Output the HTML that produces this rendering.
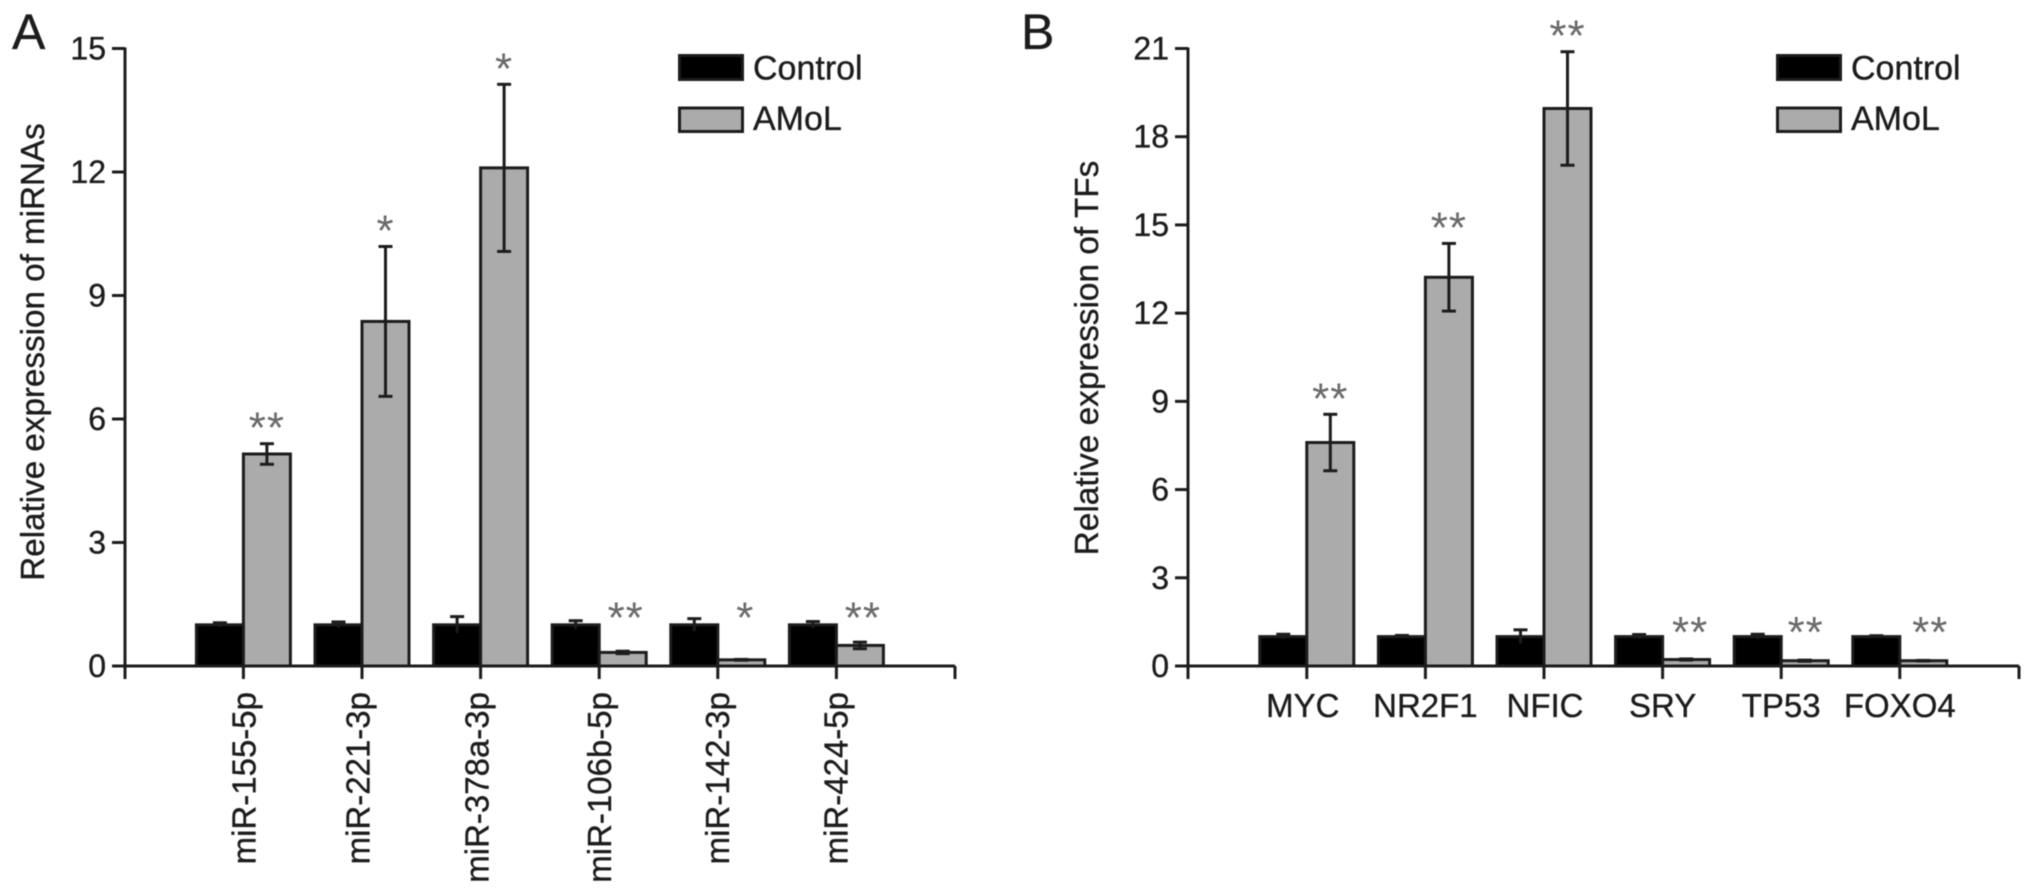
<!DOCTYPE html>
<html lang="en">
<head>
<meta charset="utf-8">
<title>Relative expression of miRNAs and TFs</title>
<style>
html,body{margin:0;padding:0;background:#fff;}
#figure{display:block;width:2032px;height:894px;filter:blur(0.6px);}
text{font-family:"Liberation Sans",Arial,sans-serif;fill:#1c1c1c;stroke:#1c1c1c;stroke-width:0.35px;}
</style>
</head>
<body>
<svg id="figure" xmlns="http://www.w3.org/2000/svg" width="2032" height="894" viewBox="0 0 2032 894">
  <rect x="0" y="0" width="2032" height="894" fill="#fff"/>
  <text x="12" y="49" font-size="50">A</text>
  <text x="1021" y="49" font-size="50">B</text>
  <g id="panelA"></g>
  <g id="panelB"></g>
</svg>
<script>
const categoriesA = ['miR-155-5p','miR-221-3p','miR-378a-3p','miR-106b-5p','miR-142-3p','miR-424-5p'];
const controlA = [1,1,1,1,1,1];
const controlErrA = [0.05,0.07,0.2,0.1,0.15,0.08];
const amolA = [5.15,8.37,12.1,0.33,0.15,0.5];
const amolErrA = [0.25,1.82,2.03,0.03,0.01,0.08];
const sigA = ['**','*','*','**','*','**'];
const ticksA = [0,3,6,9,12,15];

const categoriesB = ['MYC','NR2F1','NFIC','SRY','TP53','FOXO4'];
const controlB = [1,1,1,1,1,1];
const controlErrB = [0.08,0.04,0.23,0.07,0.08,0.03];
const amolB = [7.6,13.22,18.96,0.22,0.18,0.18];
const amolErrB = [0.96,1.15,1.93,0.02,0.02,0.01];
const sigB = ['**','**','**','**','**','**'];
const ticksB = [0,3,6,9,12,15,18,21];

const NS = 'http://www.w3.org/2000/svg';
const INK = '#1c1c1c';

function make(parent, tag, props, content) {
  const el = document.createElementNS(NS, tag);
  for (const k in props) el.setAttribute(k, props[k]);
  if (content !== undefined) el.textContent = content;
  parent.appendChild(el);
  return el;
}

function line(parent, x1, y1, x2, y2, w) {
  return make(parent, 'line', {x1, y1, x2, y2, stroke: INK, 'stroke-width': w || 3});
}

function drawPanel(root, o) {
  const yMax = o.ticks[o.ticks.length - 1];
  const y = v => o.y0 - (v / yMax) * (o.y0 - o.yTop);
  const x = i => o.x0 + o.firstOffset + i * o.step;
  const barW = 47;

  // y axis
  const yAxis = line(root, o.x0, o.yTop - 1, o.x0, o.y0 + 13);
  
  

  o.ticks.forEach(t => {
    const tk = line(root, o.x0 - 13, y(t), o.x0, y(t));
    
    
    const lb = make(root, 'text', {x: o.x0 - 19, y: y(t) + 11, 'font-size': 32, 'text-anchor': 'end'}, String(t));
    
    
  });

  // y title
  const title = make(root, 'text', {
    transform: 'translate(' + o.titleX + ',' + o.titleY + ') rotate(-90)',
    'font-size': o.titleSize, 'text-anchor': 'middle'
  }, o.title);
  
  

  // bars + error bars
  o.categories.forEach((c, i) => {
    const tx = x(i);

    const cTop = y(o.control[i]);
    const cBar = make(root, 'rect', {x: tx - barW, y: cTop, width: barW, height: o.y0 - cTop, fill: '#000', stroke: INK, 'stroke-width': 3});
    
    

    const aTop = y(o.amol[i]);
    const aBar = make(root, 'rect', {x: tx, y: aTop, width: barW, height: o.y0 - aTop, fill: '#ababab', stroke: INK, 'stroke-width': 3});
    
    

    const cx = tx - barW / 2;
    const ce = make(root, 'g', {});
    
    
    line(ce, cx, y(o.control[i] + o.controlErr[i]), cx, y(o.control[i] - o.controlErr[i]));
    line(ce, cx - 7, y(o.control[i] + o.controlErr[i]), cx + 7, y(o.control[i] + o.controlErr[i]));

    const ax = tx + barW / 2;
    const ae = make(root, 'g', {});
    
    
    const up = o.amol[i] + o.amolErr[i];
    const dn = o.amol[i] - o.amolErr[i];
    line(ae, ax, y(up), ax, y(dn));
    line(ae, ax - 7, y(up), ax + 7, y(up));
    line(ae, ax - 7, y(dn), ax + 7, y(dn));

    // significance marks: star centre sits above the error bar, or above the control bar for small values
    const starCentre = Math.min(y(up) - 25, y(o.starFloor));
    const stars = make(root, 'text', {
      x: ax + o.starNudge[i], y: starCentre + 24, 'font-size': 44, 'text-anchor': 'middle',
      'letter-spacing': '1',
      style: 'fill:#6a6a6a;stroke:none'
    }, o.sig[i]);
    
    

    // x labels
    if (o.rotated) {
      const base = tx + o.labelNudge[i];
      const lb = make(root, 'text', {
        transform: 'translate(' + base + ',692) rotate(-90)',
        'font-size': 33, 'text-anchor': 'end'
      }, c);
      
      
    } else {
      const lb = make(root, 'text', {x: tx + o.labelNudge[i], y: 717, 'font-size': 33, 'text-anchor': 'middle'}, c);
      
      
    }
  });

  // x axis on top of bar bottoms
  const xAxis = line(root, o.x0 - 13, o.y0, o.xEnd, o.y0);
  
  

  for (let i = -1; i <= o.categories.length; i++) {
    const px = i === -1 ? o.x0 : (i === o.categories.length ? o.xEnd : x(i));
    const tk = line(root, px, o.y0, px, o.y0 + 13);
    
    
  }

  // legend
  const lg = make(root, 'g', {});
  
  

  const s1 = make(lg, 'rect', {x: o.legendX + 1.5, y: 55.5, width: 63, height: 24, fill: '#000', stroke: INK, 'stroke-width': 3});
  
  
  const t1 = make(lg, 'text', {x: o.legendX + 75, y: 79.5, 'font-size': 34}, 'Control');
  
  

  const s2 = make(lg, 'rect', {x: o.legendX + 1.5, y: 108, width: 63, height: 23.5, fill: '#ababab', stroke: INK, 'stroke-width': 3});
  
  
  const t2 = make(lg, 'text', {x: o.legendX + 75, y: 130, 'font-size': 34}, 'AMoL');
  
  
}

drawPanel(document.getElementById('panelA'), {
  categories: categoriesA, control: controlA, controlErr: controlErrA,
  amol: amolA, amolErr: amolErrA, sig: sigA, ticks: ticksA,
  x0: 125, xEnd: 955, firstOffset: 118.4, step: 118.6, yTop: 48.5, y0: 666,
  title: 'Relative expression of miRNAs', titleX: 44, titleY: 352, titleSize: 33.2,
  rotated: true, labelNudge: [12,7.5,8,12,11,11], starNudge: [0,0,0,3,4,3], starFloor: 1.4,
  legendX: 678
});

drawPanel(document.getElementById('panelB'), {
  categories: categoriesB, control: controlB, controlErr: controlErrB,
  amol: amolB, amolErr: amolErrB, sig: sigB, ticks: ticksB,
  x0: 1188, xEnd: 2019, firstOffset: 118.8, step: 118.6, yTop: 48.5, y0: 666,
  title: 'Relative expression of TFs', titleX: 1098, titleY: 358, titleSize: 33.4,
  rotated: false, labelNudge: [-4,0,1,0,0,0], starNudge: [0,0,0,4,1,7], starFloor: 1.47,
  legendX: 1776
});
</script>
</body>
</html>
